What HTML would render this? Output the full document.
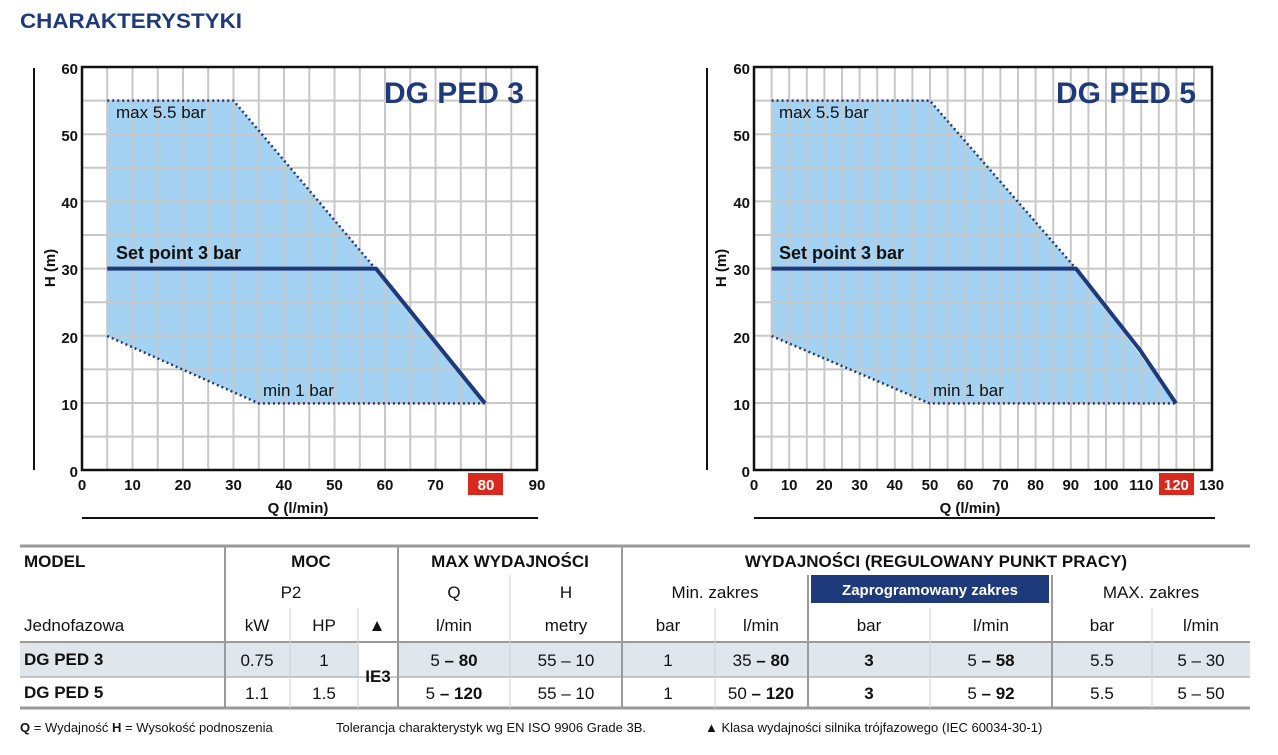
<!DOCTYPE html>
<html><head><meta charset="utf-8"><style>
body{margin:0;background:#fff;width:1278px;height:755px;overflow:hidden;font-family:"Liberation Sans",sans-serif}
svg{position:absolute;left:0;top:0}
</style></head><body>
<svg width="1278" height="755" xmlns="http://www.w3.org/2000/svg" font-family="Liberation Sans, sans-serif">
<text x="20" y="28" font-size="21" font-weight="bold" fill="#1f3a7a" textLength="222" lengthAdjust="spacingAndGlyphs">CHARAKTERYSTYKI</text>

<!-- LEFT CHART -->
<g>
<line x1="34" y1="68" x2="34" y2="470" stroke="#111" stroke-width="2"/>
<line x1="82" y1="518" x2="538" y2="518" stroke="#111" stroke-width="2"/>
<polygon points="107.2,100.6 233.5,100.6 375.3,268.6 485,403.4 258.8,403.4 107.2,336" fill="#a3d2f2"/>
<g stroke="#c8c8c8" stroke-width="2">
<line x1="107.2" y1="67" x2="107.2" y2="470"/><line x1="132.5" y1="67" x2="132.5" y2="470"/><line x1="157.7" y1="67" x2="157.7" y2="470"/><line x1="183" y1="67" x2="183" y2="470"/><line x1="208.2" y1="67" x2="208.2" y2="470"/><line x1="233.5" y1="67" x2="233.5" y2="470"/><line x1="258.8" y1="67" x2="258.8" y2="470"/><line x1="284" y1="67" x2="284" y2="470"/><line x1="309.3" y1="67" x2="309.3" y2="470"/><line x1="334.5" y1="67" x2="334.5" y2="470"/><line x1="359.8" y1="67" x2="359.8" y2="470"/><line x1="385" y1="67" x2="385" y2="470"/><line x1="410.3" y1="67" x2="410.3" y2="470"/><line x1="435.5" y1="67" x2="435.5" y2="470"/><line x1="460.8" y1="67" x2="460.8" y2="470"/><line x1="486" y1="67" x2="486" y2="470"/><line x1="511.3" y1="67" x2="511.3" y2="470"/>
<line x1="82" y1="100.6" x2="537" y2="100.6"/><line x1="82" y1="134.2" x2="537" y2="134.2"/><line x1="82" y1="167.8" x2="537" y2="167.8"/><line x1="82" y1="201.4" x2="537" y2="201.4"/><line x1="82" y1="235" x2="537" y2="235"/><line x1="82" y1="268.6" x2="537" y2="268.6"/><line x1="82" y1="302.2" x2="537" y2="302.2"/><line x1="82" y1="335.8" x2="537" y2="335.8"/><line x1="82" y1="369.4" x2="537" y2="369.4"/><line x1="82" y1="403" x2="537" y2="403"/><line x1="82" y1="436.6" x2="537" y2="436.6"/>
</g>
<rect x="82" y="67" width="455" height="403" fill="none" stroke="#111" stroke-width="2.5"/>
<g stroke="#1f3a7a" stroke-width="2.5" stroke-dasharray="2,3" fill="none">
<polyline points="107.2,100.6 233.5,100.6 375.3,268.6"/>
<polyline points="107.2,336 258.8,403.4 485,403.4"/>
</g>
<polyline points="107.2,268.6 376,268.6 485,403.4" fill="none" stroke="#1f3a7a" stroke-width="4"/>
<text x="524" y="103" font-size="30" font-weight="bold" fill="#1f3a7a" text-anchor="end">DG PED 3</text>
<text x="116" y="118" font-size="17" fill="#111">max 5.5 bar</text>
<text x="116" y="259" font-size="18" font-weight="bold" fill="#111">Set point 3 bar</text>
<text x="263" y="396" font-size="17" fill="#111">min 1 bar</text>
<g font-size="15" font-weight="bold" fill="#111" text-anchor="end">
<text x="78" y="74">60</text><text x="78" y="141">50</text><text x="78" y="208">40</text><text x="78" y="275">30</text><text x="78" y="343">20</text><text x="78" y="410">10</text><text x="78" y="477">0</text>
</g>
<rect x="468" y="473" width="35" height="22" fill="#d9281c"/>
<g font-size="15" font-weight="bold" fill="#111" text-anchor="middle">
<text x="82" y="490">0</text><text x="132.5" y="490">10</text><text x="183" y="490">20</text><text x="233.5" y="490">30</text><text x="284" y="490">40</text><text x="334.5" y="490">50</text><text x="385" y="490">60</text><text x="435.5" y="490">70</text><text x="486" y="490" fill="#fff">80</text><text x="537" y="490">90</text>
<text x="298" y="513">Q (l/min)</text>
</g>
<text transform="translate(55,268) rotate(-90)" font-size="15" font-weight="bold" fill="#111" text-anchor="middle">H (m)</text>
</g>

<!-- RIGHT CHART -->
<g>
<line x1="707" y1="68" x2="707" y2="470" stroke="#111" stroke-width="2"/>
<line x1="754" y1="518" x2="1215" y2="518" stroke="#111" stroke-width="2"/>
<polygon points="771.6,100.6 929.8,100.6 1076,268.6 1176,403.4 929.8,403.4 771.6,336" fill="#a3d2f2"/>
<g stroke="#c8c8c8" stroke-width="2" id="rg">
<line x1="771.6" y1="67" x2="771.6" y2="470"/><line x1="789.2" y1="67" x2="789.2" y2="470"/><line x1="806.8" y1="67" x2="806.8" y2="470"/><line x1="824.4" y1="67" x2="824.4" y2="470"/><line x1="842" y1="67" x2="842" y2="470"/><line x1="859.6" y1="67" x2="859.6" y2="470"/><line x1="877.2" y1="67" x2="877.2" y2="470"/><line x1="894.8" y1="67" x2="894.8" y2="470"/><line x1="912.4" y1="67" x2="912.4" y2="470"/><line x1="930" y1="67" x2="930" y2="470"/><line x1="947.6" y1="67" x2="947.6" y2="470"/><line x1="965.2" y1="67" x2="965.2" y2="470"/><line x1="982.8" y1="67" x2="982.8" y2="470"/><line x1="1000.4" y1="67" x2="1000.4" y2="470"/><line x1="1018" y1="67" x2="1018" y2="470"/><line x1="1035.6" y1="67" x2="1035.6" y2="470"/><line x1="1053.2" y1="67" x2="1053.2" y2="470"/><line x1="1070.8" y1="67" x2="1070.8" y2="470"/><line x1="1088.4" y1="67" x2="1088.4" y2="470"/><line x1="1106" y1="67" x2="1106" y2="470"/><line x1="1123.6" y1="67" x2="1123.6" y2="470"/><line x1="1141.2" y1="67" x2="1141.2" y2="470"/><line x1="1158.8" y1="67" x2="1158.8" y2="470"/><line x1="1176.4" y1="67" x2="1176.4" y2="470"/><line x1="1194" y1="67" x2="1194" y2="470"/>
<line x1="754" y1="100.6" x2="1212" y2="100.6"/><line x1="754" y1="134.2" x2="1212" y2="134.2"/><line x1="754" y1="167.8" x2="1212" y2="167.8"/><line x1="754" y1="201.4" x2="1212" y2="201.4"/><line x1="754" y1="235" x2="1212" y2="235"/><line x1="754" y1="268.6" x2="1212" y2="268.6"/><line x1="754" y1="302.2" x2="1212" y2="302.2"/><line x1="754" y1="335.8" x2="1212" y2="335.8"/><line x1="754" y1="369.4" x2="1212" y2="369.4"/><line x1="754" y1="403" x2="1212" y2="403"/><line x1="754" y1="436.6" x2="1212" y2="436.6"/>
</g>
<rect x="754" y="67" width="458" height="403" fill="none" stroke="#111" stroke-width="2.5"/>
<g stroke="#1f3a7a" stroke-width="2.5" stroke-dasharray="2,3" fill="none">
<polyline points="771.6,100.6 929.8,100.6 1076,268.6"/>
<polyline points="771.6,336 929.8,403.4 1176,403.4"/>
</g>
<polyline points="771.6,268.6 1076,268.6 1140,350 1176,403.4" fill="none" stroke="#1f3a7a" stroke-width="4"/>
<text x="1196" y="103" font-size="30" font-weight="bold" fill="#1f3a7a" text-anchor="end">DG PED 5</text>
<text x="779" y="118" font-size="17" fill="#111">max 5.5 bar</text>
<text x="779" y="259" font-size="18" font-weight="bold" fill="#111">Set point 3 bar</text>
<text x="933" y="396" font-size="17" fill="#111">min 1 bar</text>
<g font-size="15" font-weight="bold" fill="#111" text-anchor="end">
<text x="750" y="74">60</text><text x="750" y="141">50</text><text x="750" y="208">40</text><text x="750" y="275">30</text><text x="750" y="343">20</text><text x="750" y="410">10</text><text x="750" y="477">0</text>
</g>
<rect x="1159" y="473" width="35" height="22" fill="#d9281c"/>
<g font-size="15" font-weight="bold" fill="#111" text-anchor="middle">
<text x="754" y="490">0</text><text x="789.2" y="490">10</text><text x="824.4" y="490">20</text><text x="859.6" y="490">30</text><text x="894.8" y="490">40</text><text x="930" y="490">50</text><text x="965.2" y="490">60</text><text x="1000.4" y="490">70</text><text x="1035.6" y="490">80</text><text x="1070.8" y="490">90</text><text x="1106" y="490">100</text><text x="1141.2" y="490">110</text><text x="1176.4" y="490" fill="#fff">120</text><text x="1211.6" y="490">130</text>
<text x="970" y="513">Q (l/min)</text>
</g>
<text transform="translate(726,268) rotate(-90)" font-size="15" font-weight="bold" fill="#111" text-anchor="middle">H (m)</text>
</g>

<!-- TABLE -->
<rect x="20" y="642" width="1230" height="35" fill="#dfe6ec"/>
<rect x="359" y="642" width="39" height="66" fill="#fff"/>
<rect x="811" y="575" width="238" height="28" fill="#1f3a7a"/>
<g stroke="#9a9a9a">
<line x1="20" y1="546" x2="1250" y2="546" stroke-width="3"/>
<line x1="20" y1="642" x2="1250" y2="642" stroke-width="2"/>
<line x1="20" y1="677" x2="1250" y2="677" stroke-width="1"/>
<line x1="20" y1="708" x2="1250" y2="708" stroke-width="3"/>
<line x1="225" y1="546" x2="225" y2="708" stroke-width="2"/>
<line x1="398" y1="546" x2="398" y2="708" stroke-width="2"/>
<line x1="622" y1="546" x2="622" y2="708" stroke-width="2"/>
<line x1="808" y1="575" x2="808" y2="708" stroke-width="2"/>
<line x1="1052" y1="575" x2="1052" y2="708" stroke-width="2"/>
<g stroke="#d0d0d0" stroke-width="1">
<line x1="290" y1="608" x2="290" y2="708"/><line x1="358" y1="608" x2="358" y2="708"/>
<line x1="510" y1="575" x2="510" y2="708"/><line x1="715" y1="608" x2="715" y2="708"/>
<line x1="930" y1="608" x2="930" y2="708"/><line x1="1152" y1="608" x2="1152" y2="708"/>
</g>
</g>
<g font-size="17" font-weight="bold" fill="#111">
<text x="24" y="567">MODEL</text>
<text x="311" y="567" text-anchor="middle">MOC</text>
<text x="510" y="567" text-anchor="middle">MAX WYDAJNOŚCI</text>
<text x="936" y="567" text-anchor="middle">WYDAJNOŚCI (REGULOWANY PUNKT PRACY)</text>
<text x="24" y="665">DG PED 3</text>
<text x="24" y="698">DG PED 5</text>
<text x="378" y="682" text-anchor="middle">IE3</text>
</g>
<text x="930" y="595" font-size="15" font-weight="bold" fill="#fff" text-anchor="middle">Zaprogramowany zakres</text>
<g font-size="17" fill="#111" text-anchor="middle">
<text x="291" y="598">P2</text><text x="454" y="598">Q</text><text x="566" y="598">H</text>
<text x="715" y="598">Min. zakres</text><text x="1151" y="598">MAX. zakres</text>
<text x="24" y="631" text-anchor="start">Jednofazowa</text>
<text x="257" y="631">kW</text><text x="324" y="631">HP</text><text x="377" y="631">▲</text>
<text x="454" y="631">l/min</text><text x="566" y="631">metry</text>
<text x="668" y="631">bar</text><text x="761" y="631">l/min</text>
<text x="869" y="631">bar</text><text x="991" y="631">l/min</text>
<text x="1102" y="631">bar</text><text x="1201" y="631">l/min</text>
<text x="257" y="666">0.75</text><text x="324" y="666">1</text>
<text x="454" y="666">5 <tspan font-weight="bold">– 80</tspan></text><text x="566" y="666">55 – 10</text>
<text x="668" y="666">1</text><text x="761" y="666">35 <tspan font-weight="bold">– 80</tspan></text>
<text x="869" y="666" font-weight="bold">3</text><text x="991" y="666">5 <tspan font-weight="bold">– 58</tspan></text>
<text x="1102" y="666">5.5</text><text x="1201" y="666">5 – 30</text>
<text x="257" y="699">1.1</text><text x="324" y="699">1.5</text>
<text x="454" y="699">5 <tspan font-weight="bold">– 120</tspan></text><text x="566" y="699">55 – 10</text>
<text x="668" y="699">1</text><text x="761" y="699">50 <tspan font-weight="bold">– 120</tspan></text>
<text x="869" y="699" font-weight="bold">3</text><text x="991" y="699">5 <tspan font-weight="bold">– 92</tspan></text>
<text x="1102" y="699">5.5</text><text x="1201" y="699">5 – 50</text>
</g>
<g font-size="13" fill="#111">
<text x="20" y="732"><tspan font-weight="bold">Q</tspan> = Wydajność  <tspan font-weight="bold">H</tspan> = Wysokość podnoszenia</text>
<text x="336" y="732">Tolerancja charakterystyk wg EN ISO 9906 Grade 3B.</text>
<text x="705" y="732">▲  Klasa wydajności silnika trójfazowego (IEC 60034-30-1)</text>
</g>
</svg>
</body></html>
